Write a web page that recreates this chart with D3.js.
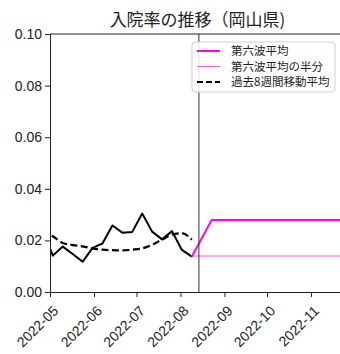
<!DOCTYPE html>
<html>
<head>
<meta charset="utf-8">
<script src="https://cdn.jsdelivr.net/npm/d3@7"></script>
<style>
  body { margin: 0; background: #fff; }
  svg { display: block; }
</style>
</head>
<body>
<script>
const w = 340;
const h = 354;
const margin = { top: 34, left: 50, bottom: 62, right: -5 };

// weekly hospitalization rate
const weeks = ["2022-04-26", "2022-05-03", "2022-05-10", "2022-05-17", "2022-05-24", "2022-05-31",
  "2022-06-07", "2022-06-14", "2022-06-21", "2022-06-28", "2022-07-05", "2022-07-12",
  "2022-07-19", "2022-07-26", "2022-08-02", "2022-08-09"];
const rate = [0.0235, 0.0141, 0.0176, 0.0147, 0.0117, 0.0171, 0.0188, 0.0258, 0.0230,
  0.0233, 0.0304, 0.0234, 0.0204, 0.0236, 0.0163, 0.0137];
// 8 week moving average
const movingAvg = [0.0240, 0.0216, 0.0190, 0.0182, 0.0177, 0.0169, 0.0164, 0.0162, 0.0161,
  0.0164, 0.0169, 0.0183, 0.0203, 0.0222, 0.0228, 0.0203];

// sixth wave average and its half
const waveDates = ["2022-08-09", "2022-08-23", "2022-11-30"];
const waveAvg = [0.0137, 0.0279, 0.0279];
const halfDates = ["2022-08-09", "2022-11-30"];
const halfAvg = [0.01395, 0.01395];

const todayLine = "2022-08-14";
const xDomain = ["2022-05-01", "2022-11-25"];
const yTicks = [0, 0.02, 0.04, 0.06, 0.08, 0.1];
const legendLabels = ["第六波平均", "第六波平均の半分", "過去8週間移動平均"];

const parse = d3.timeParse("%Y-%m-%d");

const svg = d3.select("body").append("svg")
  .attr("width", w)
  .attr("height", h);

const x = d3.scaleTime()
  .domain(xDomain.map(parse))
  .range([margin.left, w - margin.right]);

const y = d3.scaleLinear()
  .domain([0, 0.1])
  .range([h - margin.bottom, margin.top]);

svg.append("clipPath").attr("id", "clip")
  .append("rect")
  .attr("x", margin.left)
  .attr("y", margin.top)
  .attr("width", w - margin.right - margin.left)
  .attr("height", h - margin.bottom - margin.top);

const plot = svg.append("g").attr("clip-path", "url(#clip)");

const line = d3.line()
  .x(d => x(parse(d[0])))
  .y(d => y(d[1]));

plot.append("path")
  .datum(d3.zip(weeks, rate))
  .attr("d", line)
  .attr("fill", "none")
  .attr("stroke", "#000")
  .attr("stroke-width", 2)
  .attr("stroke-linejoin", "round");

plot.append("path")
  .datum(d3.zip(weeks, movingAvg))
  .attr("d", d3.line().curve(d3.curveMonotoneX).x(d => x(parse(d[0]))).y(d => y(d[1])))
  .attr("fill", "none")
  .attr("stroke", "#000")
  .attr("stroke-width", 2.2)
  .attr("stroke-dasharray", "7,3.5");

plot.append("path")
  .datum(d3.zip(halfDates, halfAvg))
  .attr("d", line)
  .attr("fill", "none")
  .attr("stroke", "#f060e0")
  .attr("stroke-width", 1);

plot.append("path")
  .datum(d3.zip(waveDates, waveAvg))
  .attr("d", line)
  .attr("fill", "none")
  .attr("stroke", "#ff00ff")
  .attr("stroke-width", 2);

// current date marker
svg.append("line")
  .attr("x1", x(parse(todayLine)))
  .attr("x2", x(parse(todayLine)))
  .attr("y1", margin.top)
  .attr("y2", h - margin.bottom)
  .attr("stroke", "#333")
  .attr("stroke-width", 1);

// axes
const yAxis = svg.append("g")
  .attr("transform", "translate(" + margin.left + ",0)")
  .call(d3.axisLeft(y).tickValues(yTicks).tickFormat(d3.format(".2f")).tickSize(5).tickPadding(3));

const xAxis = svg.append("g")
  .attr("transform", "translate(0," + (h - margin.bottom) + ")")
  .call(d3.axisBottom(x).ticks(d3.timeMonth.every(1)).tickFormat(d3.timeFormat("%Y-%m")).tickSize(5).tickSizeOuter(0));

xAxis.selectAll("text")
  .attr("text-anchor", "end")
  .attr("dx", "0")
  .attr("dy", "0")
  .attr("transform", "translate(3,14) rotate(-45)");

[yAxis, xAxis].forEach(g => {
  g.selectAll("text").style("font-family", "'Liberation Sans', Arial, sans-serif").style("font-size", "14px").attr("fill", "#222");
  g.selectAll("line").attr("stroke", "#222");
  g.select(".domain").attr("stroke", "#222");
});

// top spine
svg.append("line")
  .attr("x1", margin.left)
  .attr("x2", w)
  .attr("y1", margin.top)
  .attr("y2", margin.top)
  .attr("stroke", "#222");

// title
svg.append("text")
  .attr("x", (margin.left + w - margin.right) / 2)
  .attr("y", 26)
  .attr("text-anchor", "middle")
  .style("font-family", "'Noto Sans CJK JP', sans-serif")
  .style("font-size", "17px")
  .attr("fill", "#222")
  .text("入院率の推移（岡山県)");

// legend
const legend = svg.append("g").attr("transform", "translate(192,42)");
legend.append("rect")
  .attr("width", 143)
  .attr("height", 50)
  .attr("rx", 3)
  .attr("fill", "#fff")
  .attr("fill-opacity", 0.85)
  .attr("stroke", "#d0d0d0");

const legendStyles = [
  { stroke: "#ff00ff", width: 2, dash: null },
  { stroke: "#f060e0", width: 1, dash: null },
  { stroke: "#000", width: 2.2, dash: "6,3" }
];

legend.selectAll("g.item")
  .data(legendLabels)
  .enter()
  .append("g")
  .attr("class", "item")
  .attr("transform", (d, i) => "translate(0," + (9 + i * 15.5) + ")")
  .each(function(d, i) {
    const g = d3.select(this);
    g.append("line")
      .attr("x1", 5).attr("x2", 28)
      .attr("stroke", legendStyles[i].stroke)
      .attr("stroke-width", legendStyles[i].width)
      .attr("stroke-dasharray", legendStyles[i].dash);
    g.append("text")
      .attr("x", 39)
      .attr("dy", "0.35em")
      .style("font-family", "'Noto Sans CJK JP', sans-serif")
      .style("font-size", "11.5px")
      .attr("fill", "#222")
      .text(d);
  });
</script>
</body>
</html>
